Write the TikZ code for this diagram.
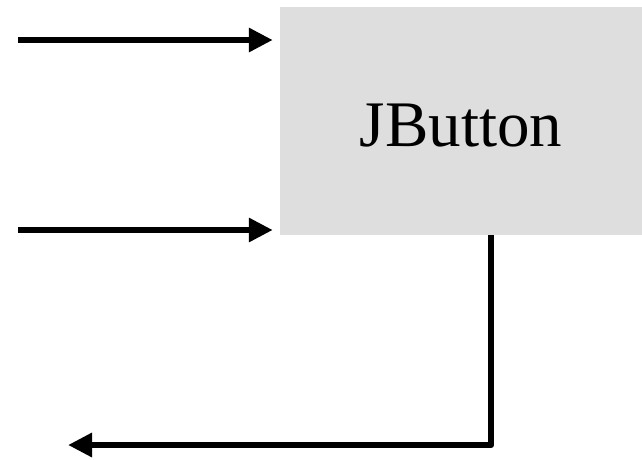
\documentclass[tikz,border=0pt]{standalone}
\usepackage{fontspec}
\setmainfont{Liberation Serif}
\usetikzlibrary{arrows.meta}
\begin{document}
\begin{tikzpicture}[x=1pt,y=-1pt,
  conn/.style={line width=6.5pt,line join=round,-{Triangle[length=24pt,width=23pt]}},
  boxstyle/.style={fill={rgb,255:red,222;green,222;blue,222},draw=none,minimum width=362pt,minimum height=228pt,inner sep=0pt,font=\fontsize{65}{65}\selectfont}]
\useasboundingbox (0,0) rectangle (642,459);
\node[boxstyle] (btn) at (461,121) {\raisebox{-5pt}[\height][\depth]{JButton}};
\coordinate (in1) at (18,40);
\coordinate (in2) at (18,230);
\coordinate (turn) at (491,445);
\coordinate (out) at (68,445);
\draw[conn,shorten >=7pt] (in1) -- (in1 -| btn.west);
\draw[conn,shorten >=7pt] (in2) -- (in2 -| btn.west);
\draw[conn] (btn.south -| turn) -- (turn) -- (out);
\end{tikzpicture}
\end{document}
